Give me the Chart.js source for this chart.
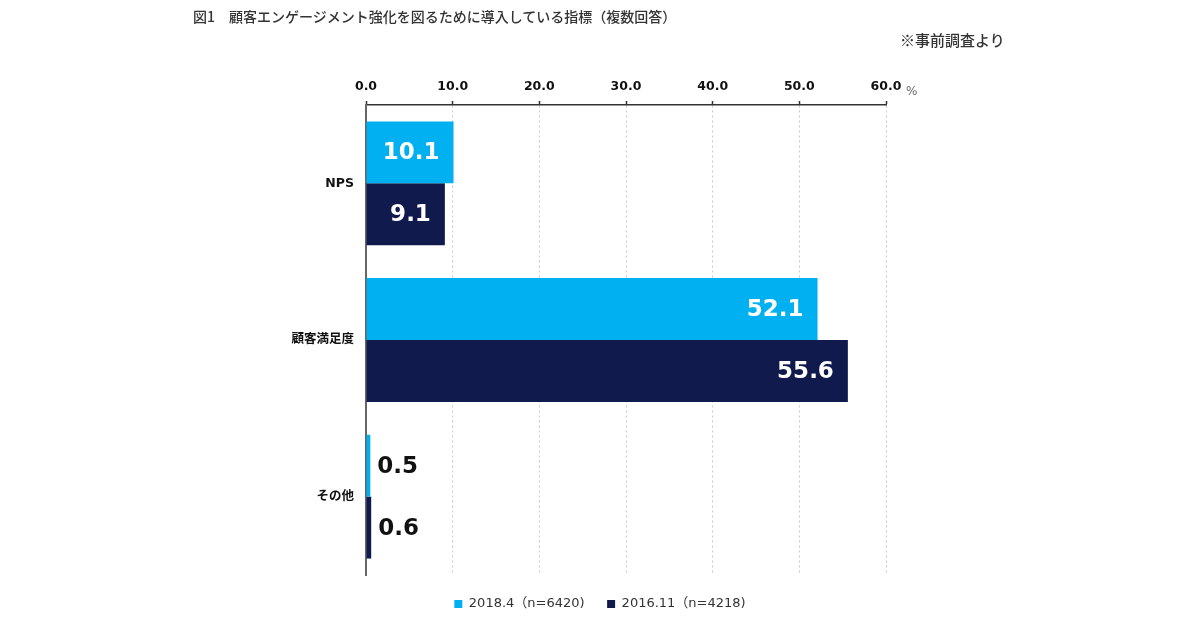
<!DOCTYPE html>
<html>
<head>
<meta charset="utf-8">
<script src="https://cdn.jsdelivr.net/npm/chart.js@4/dist/chart.umd.min.js"></script>
<style>
  html, body { margin: 0; padding: 0; background: #fff; }
  #wrap { position: relative; width: 1200px; height: 630px; }
  #title { position: absolute; left: 193px; top: 6px; font: 500 14px "Noto Sans CJK JP", sans-serif; color: #333; white-space: nowrap; }
  #note { position: absolute; left: 900px; top: 29px; font: 500 15px "Noto Sans CJK JP", sans-serif; color: #333; white-space: nowrap; }
  #pct { position: absolute; left: 906px; top: 84px; font: 12px "DejaVu Sans", sans-serif; color: #666; }
</style>
</head>
<body>
<div id="wrap">
  <canvas id="c" width="1200" height="630"></canvas>
  <div id="title">図1　顧客エンゲージメント強化を図るために導入している指標（複数回答）</div>
  <div id="note">※事前調査より</div>
  <div id="pct">%</div>
</div>
<script>
const categories = ["NPS", "顧客満足度", "その他"];
const seriesNames = ["2018.4（n=6420)", "2016.11（n=4218)"];
const values2018 = [10.1, 52.1, 0.5];
const values2016 = [9.1, 55.6, 0.6];
const xTicks = [0, 10, 20, 30, 40, 50, 60];

const labelPlugin = {
  id: 'barLabels',
  afterDatasetsDraw(chart) {
    const ctx = chart.ctx;
    ctx.save();
    ctx.font = 'bold 23px "DejaVu Sans", sans-serif';
    ctx.textBaseline = 'middle';
    chart.data.datasets.forEach((ds, di) => {
      const meta = chart.getDatasetMeta(di);
      meta.data.forEach((bar, i) => {
        const v = ds.data[i];
        const txt = v.toFixed(1);
        const w = bar.x - bar.base;
        if (w > 70) {
          ctx.fillStyle = '#ffffff';
          ctx.textAlign = 'right';
          ctx.fillText(txt, bar.x - 14, bar.y + 1);
        } else {
          ctx.fillStyle = '#111111';
          ctx.textAlign = 'left';
          ctx.fillText(txt, bar.x + 7, bar.y + 1);
        }
      });
    });
    ctx.restore();
  }
};

new Chart(document.getElementById('c'), {
  type: 'bar',
  data: {
    labels: categories,
    datasets: [
      { label: seriesNames[0], data: values2018, backgroundColor: '#00B0F0', borderWidth: 0 },
      { label: seriesNames[1], data: values2016, backgroundColor: '#111A4D', borderWidth: 0 }
    ]
  },
  options: {
    indexAxis: 'y',
    responsive: false,
    animation: false,
    devicePixelRatio: 1,
    categoryPercentage: 0.79,
    barPercentage: 1.0,
    layout: { padding: { top: 0, left: 0, right: 0, bottom: 9.5 } },
    plugins: {
      legend: {
        position: 'bottom',
        labels: {
          boxWidth: 8, boxHeight: 8, padding: 22.5,
          color: '#333',
          font: { family: '"DejaVu Sans", "Noto Sans CJK JP", sans-serif', size: 13 }
        }
      },
      tooltip: { enabled: false }
    },
    scales: {
      x: {
        position: 'top',
        min: 0, max: 60,
        afterBuildTicks: s => { s.ticks = xTicks.map(v => ({ value: v })); },
        afterFit: s => { s.height = 105; },
        ticks: {
          padding: 7,
          color: '#111',
          font: { family: '"DejaVu Sans", sans-serif', size: 12.5, weight: 'bold' },
          callback: v => Number(v).toFixed(1)
        },
        grid: { color: '#c8c8c8', lineWidth: 1, tickColor: '#333', tickLength: 4, tickWidth: 1.5, tickBorderDash: [] },
        border: { display: true, color: '#333', width: 1.5, dash: [2, 3] }
      },
      y: {
        afterFit: s => { s.width = 366; },
        ticks: {
          padding: 4,
          color: '#111',
          font: { family: '"DejaVu Sans", "Noto Sans CJK JP", sans-serif', size: 12.5, weight: 'bold' }
        },
        grid: { display: false },
        border: { display: true, color: '#666', width: 2 }
      },
      spacer: {
        type: 'linear',
        axis: 'y',
        position: 'right',
        display: true,
        afterFit: s => { s.width = 314; },
        ticks: { display: false },
        grid: { display: false },
        border: { display: false }
      }
    }
  },
  plugins: [labelPlugin]
});
</script>
</body>
</html>
